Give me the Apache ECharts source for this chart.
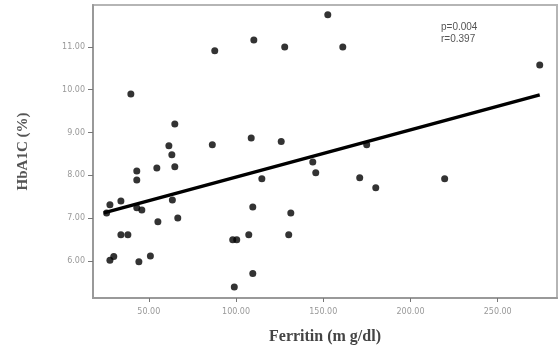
<!DOCTYPE html>
<html>
<head>
<meta charset="utf-8">
<script src="https://cdn.jsdelivr.net/npm/echarts@6/dist/echarts.min.js"></script>
<style>
  html, body { margin: 0; padding: 0; background: #fff; }
  #chart { width: 558px; height: 351px; }
</style>
</head>
<body>
<div id="chart"></div>
<script>
// Ferritin (x) and HbA1C (y)
const ferritin = [39.7, 87.8, 110.2, 127.9, 152.6, 161.2, 274.1, 64.9, 61.5, 63.2,
  54.6, 64.9, 43.1, 43.1, 86.4, 108.7, 125.9, 174.9, 144.0, 145.7,
  170.9, 180.1, 219.6, 114.8, 109.6, 131.4, 130.2, 98.1, 100.4, 107.3,
  109.6, 99.0, 27.7, 29.9, 44.3, 50.9, 34.0, 38.0, 55.2, 66.6,
  63.5, 34.0, 27.7, 25.8, 43.1, 46.0];
const hba1c = [9.90, 10.91, 11.16, 11.00, 11.75, 11.00, 10.58, 9.20, 8.69, 8.48,
  8.17, 8.20, 8.10, 7.89, 8.71, 8.87, 8.79, 8.71, 8.31, 8.06,
  7.94, 7.71, 7.92, 7.92, 7.26, 7.12, 6.61, 6.49, 6.49, 6.61,
  5.70, 5.39, 6.01, 6.10, 5.98, 6.11, 6.61, 6.61, 6.91, 7.00,
  7.42, 7.40, 7.31, 7.12, 7.24, 7.19];

// fit line end points
const fitX = [24.2, 274.1];
const fitY = [7.12, 9.88];

const xTicks = [50, 100, 150, 200, 250];
const yTicks = [6, 7, 8, 9, 10, 11];

const chart = echarts.init(document.getElementById('chart'));

const points = ferritin.map((v, i) => [v, hba1c[i]]);
const fit = fitX.map((v, i) => [v, fitY[i]]);

chart.setOption({
  animation: false,
  grid: {
    left: 93, top: 5, right: 1, bottom: 53,
    show: true, borderColor: '#b5b5b5', borderWidth: 2, backgroundColor: '#fff'
  },
  xAxis: {
    type: 'value',
    min: 18, max: 284,
    name: 'Ferritin (m g/dl)',
    nameLocation: 'middle',
    nameGap: 31,
    nameTextStyle: {
      fontFamily: 'Liberation Serif', fontWeight: 'bold', fontSize: 16, color: '#444'
    },
    splitLine: { show: false },
    axisLine: { show: true, lineStyle: { color: '#999', width: 2 } },
    axisTick: { show: true, length: 4, customValues: xTicks, lineStyle: { color: '#777' } },
    axisLabel: {
      customValues: xTicks, margin: 10,
      fontSize: 8, color: '#999', fontFamily: 'DejaVu Sans',
      formatter: v => v.toFixed(2)
    }
  },
  yAxis: {
    type: 'value',
    min: 5.13, max: 11.98,
    name: 'HbA1C (%)',
    nameLocation: 'middle',
    nameGap: 62,
    nameTextStyle: {
      fontFamily: 'Liberation Serif', fontWeight: 'bold', fontSize: 15, color: '#555'
    },
    splitLine: { show: false },
    axisLine: { show: true, lineStyle: { color: '#999', width: 2 } },
    axisTick: { show: true, length: 5, customValues: yTicks, lineStyle: { color: '#777' } },
    axisLabel: {
      customValues: yTicks, margin: 8,
      fontSize: 8, color: '#999', fontFamily: 'DejaVu Sans',
      formatter: v => v.toFixed(2)
    }
  },
  graphic: [
    { type: 'text', left: 441, top: 22,
      style: { text: 'p=0.004', fontSize: 10, fill: '#555', fontFamily: 'Liberation Sans Narrow, Liberation Sans' } },
    { type: 'text', left: 441, top: 34,
      style: { text: 'r=0.397', fontSize: 10, fill: '#555', fontFamily: 'Liberation Sans Narrow, Liberation Sans' } }
  ],
  series: [
    {
      type: 'scatter',
      data: points,
      symbol: 'circle',
      symbolSize: 7,
      itemStyle: { color: '#000' }
    },
    {
      type: 'line',
      data: fit,
      symbol: 'none',
      lineStyle: { color: '#000', width: 3.5 },
      z: 3
    }
  ]
});
</script>
</body>
</html>
